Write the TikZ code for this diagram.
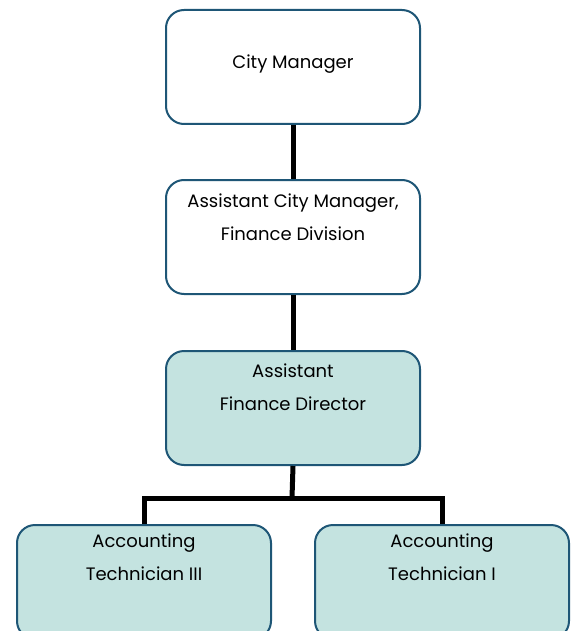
\documentclass[tikz,border=0pt]{standalone}
\usepackage{fontspec}
\setmainfont{Poppins}
\definecolor{boxborder}{RGB}{30,86,118}
\definecolor{boxfill}{RGB}{196,227,224}
\begin{document}
\begin{tikzpicture}[x=1pt,y=-1pt,
  orgbox/.style={draw=boxborder, line width=2pt, rounded corners=18pt,
    minimum width=254pt, minimum height=114pt, inner sep=0pt, anchor=north west},
  whitebox/.style={orgbox, fill=white},
  tealbox/.style={orgbox, fill=boxfill},
  boxtext/.style={anchor=north, inner sep=0pt, align=center,
    font=\fontsize{18}{32.5}\selectfont},
  link/.style={line width=5pt, black, line join=miter}]
\useasboundingbox (0,0) rectangle (571,631);
\clip (0,0) rectangle (571,631);
\node[whitebox] (cm) at (165,9) {};
\node[whitebox] (acm) at (165,179) {};
\node[tealbox] (afd) at (165,350) {};
\node[tealbox] (at3) at (16,524) {};
\node[tealbox] (at1) at (314,524) {};
\coordinate (bar) at (292,498);
\draw[link] (cm.south) -- (acm.north);
\draw[link] (acm.south) -- (afd.north);
\draw[link] (afd.south) -- (bar);
\draw[link] (at3.north) |- (bar) -| (at1.north);
\node[boxtext] (tcm) at ([yshift=-46pt]cm.north) {City Manager};
\node[boxtext] (tacm) at ([yshift=-15pt]acm.north) {Assistant City Manager,\\Finance Division};
\node[boxtext] (tafd) at ([yshift=-14pt]afd.north) {Assistant\\Finance Director};
\node[boxtext] (tat3) at ([yshift=-10pt]at3.north) {Accounting\\Technician III};
\node[boxtext] (tat1) at ([yshift=-10pt]at1.north) {Accounting\\Technician I};
\end{tikzpicture}
\end{document}
